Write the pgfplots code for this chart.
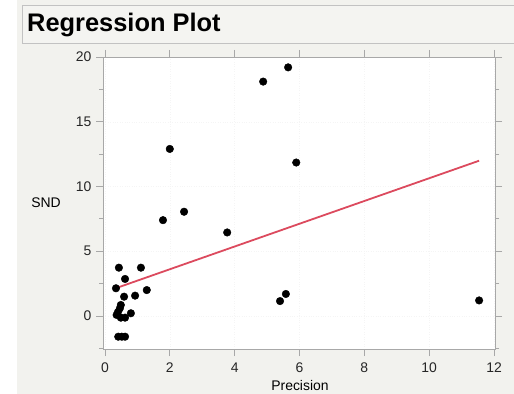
\documentclass[border=0pt]{standalone}
\usepackage{pgfplots}
\pgfplotsset{compat=1.18}
\usepackage{fontspec}
\setmainfont{Liberation Sans}
\definecolor{bggray}{HTML}{F2F2EE}
\definecolor{titlebg}{HTML}{F4F4F1}
\definecolor{framegray}{HTML}{A8A8A8}
\definecolor{regred}{HTML}{DC4A5E}
\begin{document}
\begin{tikzpicture}
\fill[white] (0,0) rectangle (514bp,394bp);
\fill[bggray] (17bp,0) rectangle (514bp,394bp);
\draw[framegray!70, fill=titlebg, line width=0.8bp] (22bp,351bp) rectangle (520bp,389bp);
\node[anchor=west, font=\fontsize{25.5}{28}\selectfont\bfseries, inner sep=0pt] at (27bp,369.5bp) {Regression Plot};
\begin{axis}[
  at={(103bp,45bp)}, anchor=south west,
  width=392bp, height=292bp, scale only axis,
  xmin=-0.06, xmax=12.03, ymin=-2.55, ymax=20,
  xtick={0,2,4,6,8,10,12}, ytick={0,5,10,15,20},
  minor ytick={-2.5,2.5,7.5,12.5,17.5},
  tick align=outside,
  major tick length=7bp, minor tick length=4bp,
  axis line style={framegray, line width=0.8bp},
  tick style={framegray, line width=0.8bp},
  every tick label/.append style={font=\fontsize{14}{16}\selectfont, text=black!85},
  /pgf/number format/assume math mode=true,
  axis background/.style={fill=white},
  xmajorgrids, ymajorgrids,
  grid style={gray!8, dotted},
  clip=false,
  yticklabel style={xshift=-1bp},
  xticklabel style={yshift=-3bp},
]
\addplot[only marks, mark=*, mark size=3.8bp, mark options={fill=black, draw=black}] coordinates {
(4.88,18.1) (5.65,19.2) (2.0,12.9) (5.9,11.85) (1.79,7.4) (2.44,8.05) (3.77,6.45) (5.58,1.7) (5.4,1.15) (11.54,1.2)
(0.43,3.73) (1.11,3.73) (0.62,2.86) (0.34,2.14) (1.29,2.0) (0.93,1.57) (0.59,1.49) (0.49,0.85) (0.46,0.59) (0.80,0.21)
(0.36,0.08) (0.49,-0.13) (0.62,-0.13) (0.41,-1.6) (0.62,-1.6) (0.52,-1.6) (0.40,0.3)
};
\addplot[regred, line width=1.8bp] coordinates {(0.33,2.14) (11.54,11.99)};
\end{axis}
\node[font=\fontsize{14}{16}\selectfont] at (46bp,191bp) {SND};
\node[font=\fontsize{14}{16}\selectfont] at (300bp,8bp) {Precision};
\pgfresetboundingbox
\path (0,0) rectangle (514bp,394bp);
\end{tikzpicture}
\end{document}
